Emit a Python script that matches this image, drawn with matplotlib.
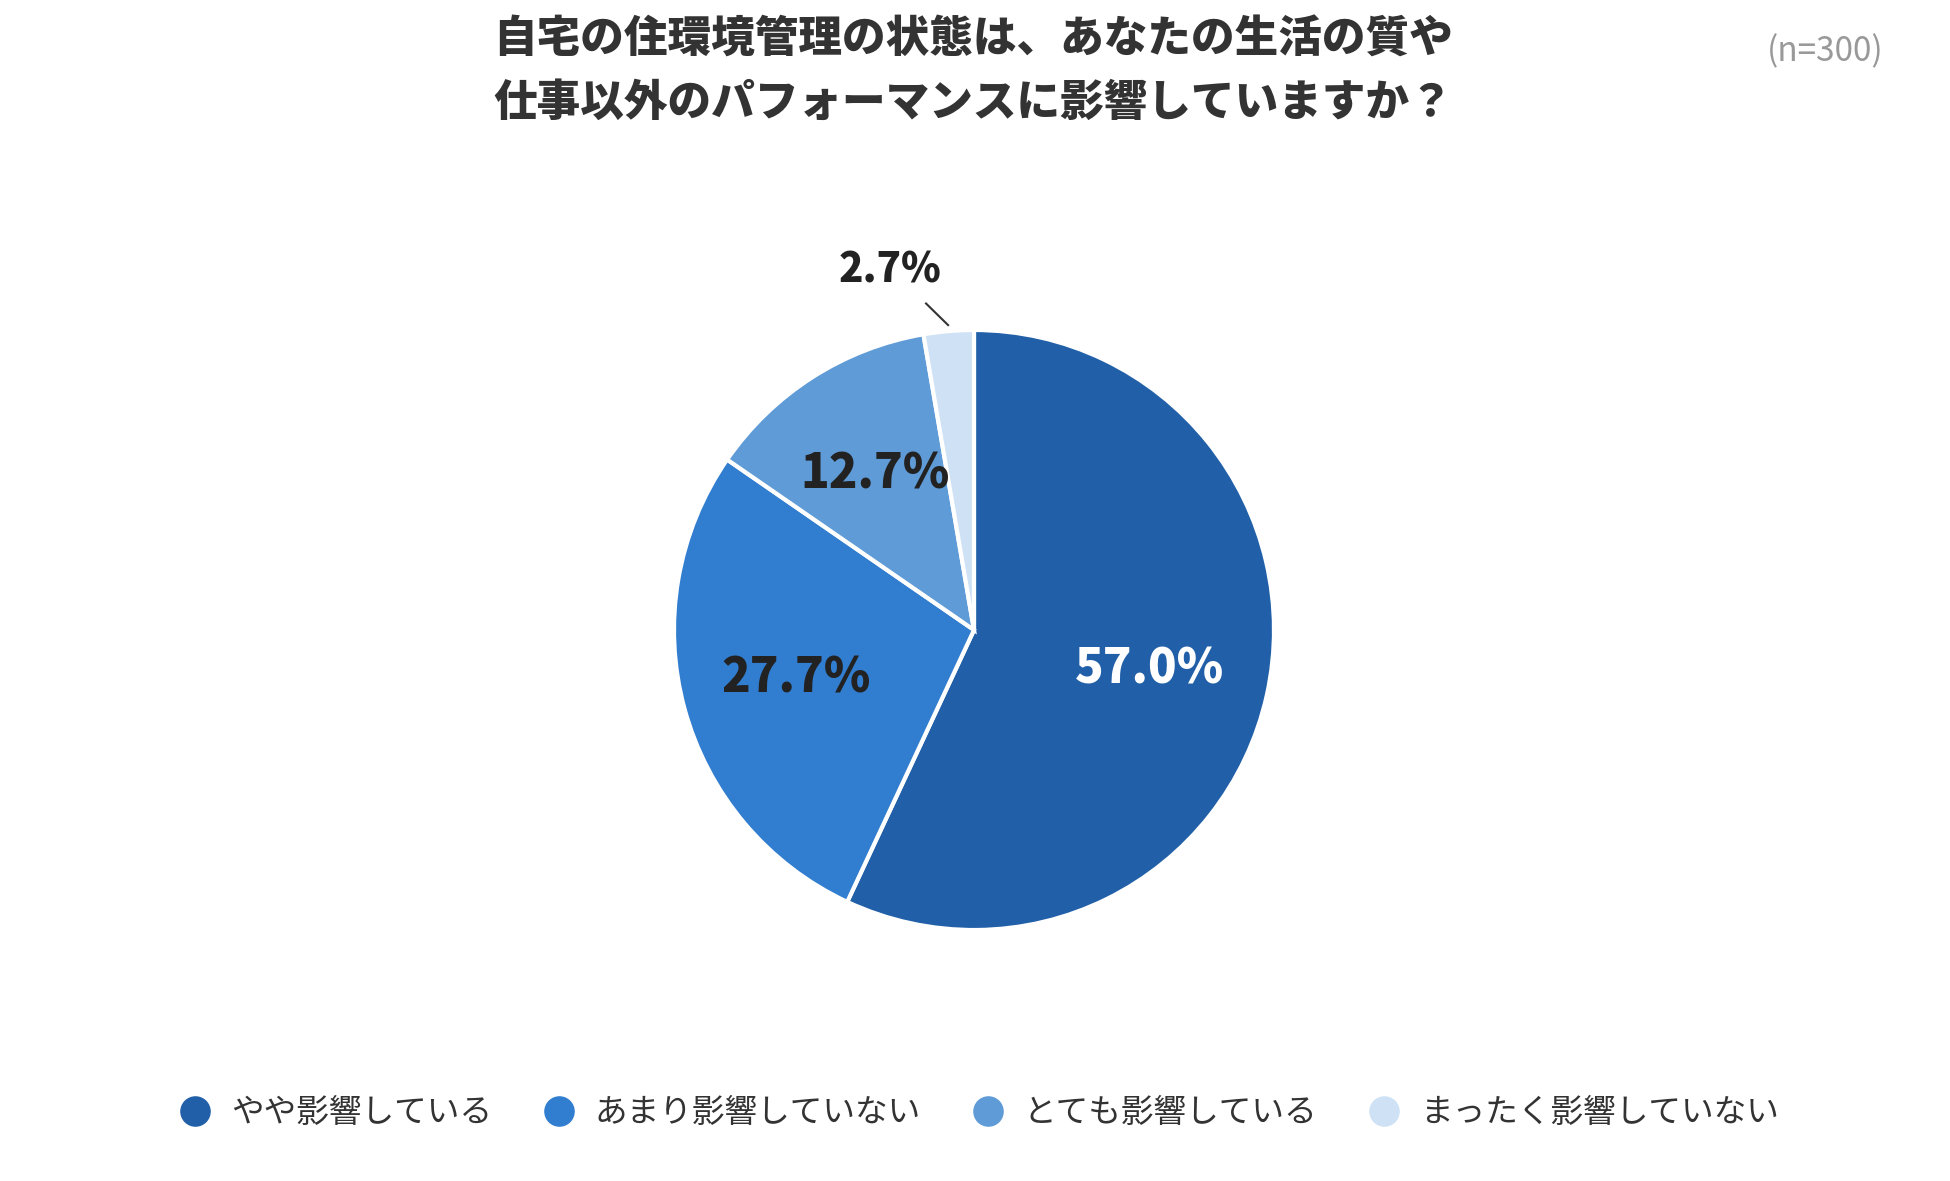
import numpy as np
import matplotlib
matplotlib.use('Agg')
import matplotlib.pyplot as plt
from matplotlib.lines import Line2D

plt.rcParams['font.family'] = ['Noto Sans CJK JP', 'DejaVu Sans']

# data
labels = ['やや影響している', 'あまり影響していない', 'とても影響している', 'まったく影響していない']
values = [57.0, 27.7, 12.7, 2.7]
colors = ['#2160a8', '#317dcf', '#5f9bd6', '#cfe2f5']
title = '自宅の住環境管理の状態は、あなたの生活の質や\n仕事以外のパフォーマンスに影響していますか？'
note = '(n=300)'

W, H = 1950, 1181
fig = plt.figure(figsize=(W / 100, H / 100), dpi=100)

# pie axes: center ~ (974, 630), radius 300 px
cx, cy, r = 974, 630, 300
ax = fig.add_axes([(cx - r) / W, 1 - (cy + r) / H, 2 * r / W, 2 * r / H])
wedges, _ = ax.pie(values, colors=colors, startangle=90, counterclock=False,
                   radius=1.0, wedgeprops=dict(edgecolor='white', linewidth=3))
ax.set_xlim(-1, 1)
ax.set_ylim(-1, 1)
ax.set_aspect('equal')
ax.axis('off')

# value labels
for i, w in enumerate(wedges):
    ang = np.deg2rad((w.theta1 + w.theta2) / 2)
    txt = '%.1f%%' % values[i]
    if i == 0:
        ax.text(0.6 * np.cos(ang), 0.6 * np.sin(ang), txt, ha='center', va='center',
                fontsize=34, fontweight='heavy', color='white')
    elif i < 3:
        ax.text(0.615 * np.cos(ang), 0.615 * np.sin(ang), txt, ha='center', va='center',
                fontsize=34, fontweight='heavy', color='#222222')
    else:
        p1 = (1.02 * np.cos(ang), 1.02 * np.sin(ang))
        a2 = ang + np.deg2rad(3.5)
        p2 = (1.10 * np.cos(a2), 1.10 * np.sin(a2))
        ax.plot([p1[0], p2[0]], [p1[1], p2[1]], color='#333333', lw=1.5, clip_on=False)
        ax.text(p2[0] - 0.12, p2[1] + 0.11, txt, ha='center', va='center',
                fontsize=29, fontweight='heavy', color='#222222')

fig.text(0.499, 1 - 71 / H, title, ha='center', va='center', fontsize=31.4,
         fontweight='black', color='#333333', linespacing=1.5)
fig.text(1884 / W, 1 - 52 / H, note, ha='right', va='center', fontsize=24,
         color='#999999')

handles = [Line2D([0], [0], marker='o', linestyle='none', markersize=21,
                  markerfacecolor=c, markeredgecolor=c) for c in colors]
fig.legend(handles, labels, loc='center', bbox_to_anchor=(0.502, 1 - 1113 / H),
           ncol=4, frameon=False, fontsize=23.5, handlelength=1.0, handletextpad=0.6,
           columnspacing=1.55, labelcolor='#333333')

fig.savefig('out.png', dpi=100, facecolor='white')
